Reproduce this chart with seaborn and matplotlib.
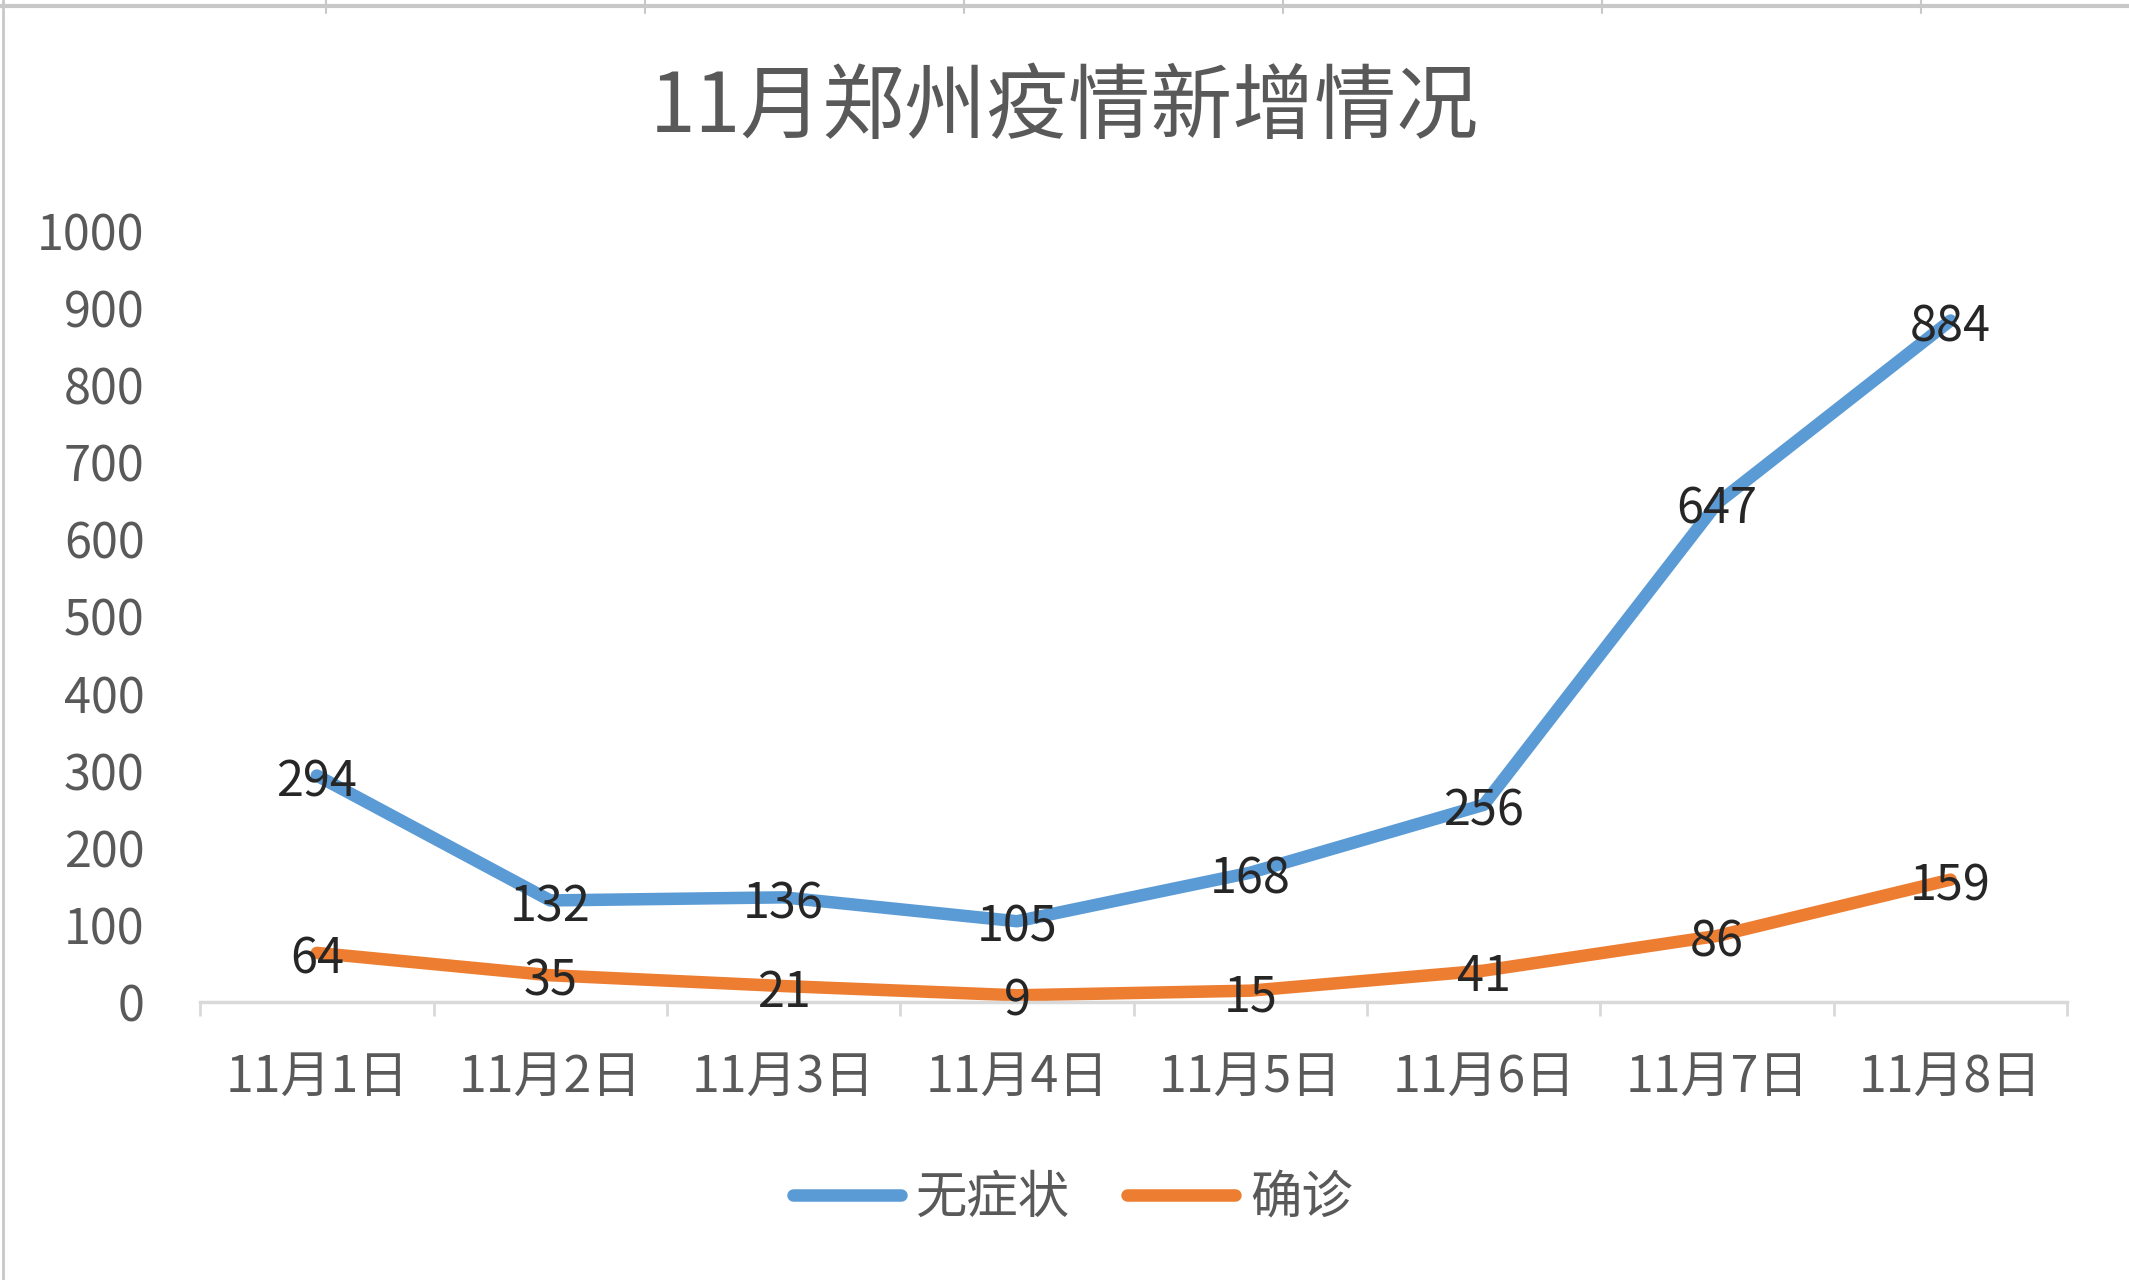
import matplotlib
matplotlib.use("Agg")
import matplotlib.pyplot as plt
from matplotlib.lines import Line2D
import seaborn as sns
import pandas as pd
from matplotlib.ticker import FixedLocator

categories = ["11月1日", "11月2日", "11月3日", "11月4日", "11月5日", "11月6日", "11月7日", "11月8日"]
series_names = ["无症状", "确诊"]
asymptomatic = [294, 132, 136, 105, 168, 256, 647, 884]
confirmed = [64, 35, 21, 9, 15, 41, 86, 159]
y_ticks = [0, 100, 200, 300, 400, 500, 600, 700, 800, 900, 1000]
title = "11月郑州疫情新增情况"

sns.set_theme(style="white")
plt.rcParams["font.family"] = ["Noto Sans CJK SC", "DejaVu Sans"]

df = pd.DataFrame({
    "x": list(range(len(categories))) * 2,
    "value": asymptomatic + confirmed,
    "series": [series_names[0]] * len(categories) + [series_names[1]] * len(categories),
})

colors = {"无症状": "#5B9BD5", "确诊": "#ED7D31"}

fig = plt.figure(figsize=(21.29, 12.80), dpi=100)
ax = fig.add_axes([0.094, 0.217, 0.877, 0.6025])

sns.lineplot(data=df, x="x", y="value", hue="series", palette=colors,
             linewidth=9, ax=ax, legend=False, solid_capstyle="round")
for ln in ax.lines:
    ln.set_clip_on(False)

ax.set_xlim(-0.5, len(categories) - 0.5)
ax.set_ylim(0, 1000)
ax.set_xlabel("")
ax.set_ylabel("")

ax.set_yticks(y_ticks)
ax.set_yticklabels([str(v) for v in y_ticks])
ax.set_xticks(range(len(categories)))
ax.set_xticklabels(categories)
ax.xaxis.set_minor_locator(FixedLocator([i - 0.5 for i in range(len(categories) + 1)]))

tick_color = "#595959"
ax.tick_params(axis="y", length=0, pad=40, labelsize=35, labelcolor=tick_color)
ax.tick_params(axis="x", which="major", length=0, pad=36, labelsize=36, labelcolor=tick_color)
ax.tick_params(axis="x", which="minor", length=10, width=2, color="#D9D9D9", bottom=True)

for s in ["top", "right", "left"]:
    ax.spines[s].set_visible(False)
ax.spines["bottom"].set_color("#D9D9D9")
ax.spines["bottom"].set_linewidth(2.5)
ax.grid(False)

for vals in (asymptomatic, confirmed):
    for i, v in enumerate(vals):
        ax.annotate(str(v), xy=(i, v), xytext=(0, -5), textcoords="offset points",
                    ha="center", va="center", fontsize=35, color="#262626",
                    zorder=5, annotation_clip=False)

fig.text(0.5, 0.915, title, ha="center", va="center", fontsize=59, color="#595959")

handles = [Line2D([0], [0], color=colors[n], lw=9) for n in series_names]
fig.legend(handles, series_names, loc="center", bbox_to_anchor=(0.504, 0.064),
           ncol=2, frameon=False, fontsize=37, handlelength=2.1,
           handletextpad=0.3, columnspacing=1.1, labelcolor=tick_color)

# spreadsheet background edges
fig.add_artist(Line2D([0, 1], [0.995, 0.995], transform=fig.transFigure,
                      color="#C8C8C8", lw=3))
fig.add_artist(Line2D([0.0015, 0.0015], [0, 1], transform=fig.transFigure,
                      color="#C8C8C8", lw=2))
for xp in [326, 645, 964, 1283, 1602, 1921]:
    fig.add_artist(Line2D([xp / 2129, xp / 2129], [0.99, 1.0], transform=fig.transFigure,
                          color="#C8C8C8", lw=1.5))

fig.savefig("out.png", dpi=100)
